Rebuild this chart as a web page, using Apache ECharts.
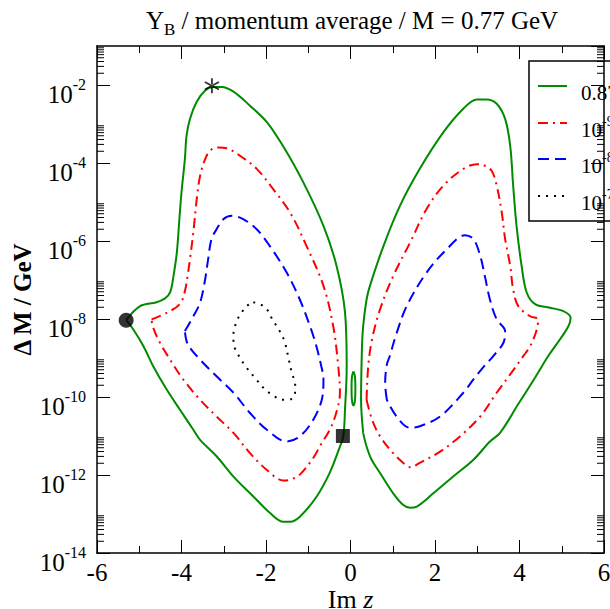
<!DOCTYPE html>
<html><head><meta charset="utf-8">
<script src="https://cdn.jsdelivr.net/npm/echarts@6/dist/echarts.min.js"></script>
<style>html,body{margin:0;padding:0;background:#fff;overflow:hidden}#c{width:610px;height:609px}</style>
</head><body><div id="c"></div>
<script>
// ---- data: [Im z, log10(ΔM / GeV)] ----
const greenLeft = [[-5.31,-8.03],[-4.98,-7.67],[-4.59,-7.57],[-4.39,-7.47],[-4.27,-7.32],[-4.19,-6.90],[-4.11,-6.29],[-4.05,-5.44],[-4.00,-4.75],[-3.92,-3.90],[-3.88,-3.30],[-3.80,-2.87],[-3.64,-2.43],[-3.44,-2.14],[-3.25,-2.05],[-3.05,-2.05],[-2.77,-2.17],[-2.38,-2.53],[-1.98,-2.95],[-1.60,-3.56],[-1.12,-4.49],[-0.64,-5.61],[-0.33,-6.64],[-0.13,-7.83],[-0.09,-9.22],[-0.13,-10.32],[-0.17,-11.01],[-0.25,-11.27],[-0.49,-11.94],[-0.80,-12.55],[-1.20,-13.07],[-1.43,-13.20],[-1.59,-13.20],[-1.91,-12.97],[-2.30,-12.55],[-2.77,-12.04],[-3.17,-11.52],[-3.56,-11.10],[-3.72,-10.84],[-4.04,-10.32],[-4.35,-9.81],[-4.67,-9.21],[-4.90,-8.70],[-5.14,-8.27],[-5.31,-8.03]];
const greenRight = [[0.30,-10.92],[0.25,-10.07],[0.27,-8.78],[0.30,-8.18],[0.38,-7.50],[0.46,-7.15],[0.78,-6.13],[1.17,-5.10],[1.64,-4.15],[2.20,-3.21],[2.67,-2.61],[2.99,-2.37],[3.22,-2.37],[3.46,-2.48],[3.66,-2.87],[3.78,-3.56],[3.85,-4.58],[3.93,-5.61],[4.05,-6.64],[4.17,-7.32],[4.37,-7.62],[4.72,-7.71],[5.04,-7.80],[5.21,-7.97],[5.16,-8.18],[4.96,-8.52],[4.68,-8.95],[4.37,-9.50],[3.96,-10.20],[3.54,-10.92],[3.30,-11.14],[2.91,-11.61],[2.43,-12.04],[1.96,-12.47],[1.57,-12.81],[1.41,-12.84],[1.25,-12.77],[1.01,-12.47],[0.70,-11.95],[0.50,-11.61],[0.38,-11.27],[0.30,-10.92]];
const greenIsland = [[0.07,-9.34],[0.105,-9.47],[0.115,-9.78],[0.105,-10.09],[0.07,-10.22],[0.035,-10.09],[0.025,-9.78],[0.035,-9.47],[0.07,-9.34]];
const redLeft = [[-4.71,-8.01],[-4.35,-7.84],[-4.04,-7.62],[-3.92,-7.29],[-3.85,-6.85],[-3.80,-6.47],[-3.72,-5.78],[-3.64,-4.93],[-3.56,-4.33],[-3.44,-3.90],[-3.32,-3.68],[-3.13,-3.60],[-2.93,-3.62],[-2.62,-3.81],[-2.22,-4.15],[-1.83,-4.67],[-1.43,-5.27],[-1.04,-6.13],[-0.64,-7.15],[-0.41,-8.18],[-0.29,-9.21],[-0.25,-9.89],[-0.33,-10.38],[-0.49,-10.84],[-0.72,-11.25],[-0.88,-11.56],[-1.20,-11.99],[-1.43,-12.12],[-1.59,-12.14],[-1.98,-11.87],[-2.38,-11.44],[-2.77,-10.92],[-3.17,-10.50],[-3.56,-10.07],[-3.96,-9.55],[-4.27,-9.04],[-4.51,-8.61],[-4.67,-8.22],[-4.71,-8.01]];
const redRight = [[0.38,-10.07],[0.42,-9.21],[0.51,-8.52],[0.70,-7.75],[1.01,-6.90],[1.41,-6.04],[1.80,-5.18],[2.20,-4.58],[2.67,-4.15],[2.99,-4.03],[3.14,-4.05],[3.34,-4.20],[3.46,-4.58],[3.58,-5.27],[3.66,-5.95],[3.78,-6.64],[3.85,-7.24],[3.97,-7.67],[4.25,-7.93],[4.44,-8.01],[4.41,-8.27],[4.25,-8.70],[4.09,-8.95],[3.78,-9.42],[3.46,-9.89],[3.07,-10.50],[2.59,-11.01],[2.12,-11.40],[1.64,-11.69],[1.41,-11.80],[1.25,-11.69],[1.01,-11.44],[0.70,-11.01],[0.51,-10.58],[0.38,-10.07]];
const blueLeft = [[-3.92,-8.31],[-3.72,-7.93],[-3.56,-7.58],[-3.44,-6.98],[-3.37,-6.47],[-3.29,-5.95],[-3.17,-5.70],[-3.01,-5.44],[-2.81,-5.35],[-2.54,-5.44],[-2.22,-5.70],[-1.91,-6.13],[-1.51,-6.81],[-1.20,-7.50],[-0.96,-8.18],[-0.82,-8.65],[-0.70,-9.17],[-0.64,-9.55],[-0.68,-10.07],[-0.88,-10.58],[-1.20,-11.01],[-1.51,-11.14],[-1.98,-10.84],[-2.38,-10.41],[-2.77,-9.89],[-3.17,-9.47],[-3.56,-9.04],[-3.85,-8.65],[-3.92,-8.31]];
const blueRight = [[0.86,-10.07],[0.82,-9.64],[0.86,-9.17],[0.93,-8.95],[1.08,-8.40],[1.33,-7.67],[1.80,-6.81],[2.28,-6.21],[2.71,-5.85],[2.91,-5.95],[3.07,-6.38],[3.18,-6.90],[3.30,-7.50],[3.46,-8.01],[3.66,-8.31],[3.62,-8.61],[3.38,-8.95],[3.14,-9.24],[2.91,-9.55],[2.67,-9.89],[2.12,-10.50],[1.64,-10.75],[1.41,-10.79],[1.09,-10.50],[0.86,-10.07]];
const blackLeft = [[-2.30,-7.57],[-2.14,-7.62],[-1.98,-7.75],[-1.87,-7.97],[-1.75,-8.18],[-1.63,-8.40],[-1.55,-8.61],[-1.47,-8.99],[-1.39,-9.38],[-1.31,-9.68],[-1.31,-9.85],[-1.39,-10.05],[-1.63,-10.07],[-1.83,-9.96],[-2.02,-9.81],[-2.26,-9.51],[-2.50,-9.19],[-2.66,-8.91],[-2.77,-8.61],[-2.77,-8.40],[-2.69,-8.05],[-2.58,-7.84],[-2.46,-7.67],[-2.30,-7.57]];
const circlePoint = [[-5.31,-8.03]];
const starPoint = [[-3.28,-2.02]];
const squarePoint = [[-0.18,-11.0]];

// ---- axes / text ----
const xTickValues = [-6,-4,-2,0,2,4,6];
const yMajorExponents = [-14,-12,-10,-8,-6,-4,-2];
const yMinorMantissas = [2,3,4,5,6,7,8,9];
const legendLabels = [['0.87',''],['10','-9'],['10','-8'],['10','-7']];
const titleParts = ['Y','B',' / momentum average / M = 0.77 GeV'];

const FONT = 'Liberation Serif';
// y axis is log10(ΔM): every decade is one unit of the value axis
const yMinorValues = [];
yMajorExponents.forEach(e => yMinorMantissas.forEach(m => yMinorValues.push([-6, e + Math.log10(m)])));

const chart = echarts.init(document.getElementById('c'), null, {renderer: 'svg'});

function contour(name, data, color, type) {
  return {
    type: 'line', name, data: data, showSymbol: false, symbol: 'none',
    smooth: 0.35, animation: false, silent: true, clip: true, z: 3,
    lineStyle: {color, width: 2, type, cap: 'butt'}
  };
}
const GREEN = '#008b00', RED = '#ff0000', BLUE = '#0000ff';
const redDash = [10, 5, 2, 5], blueDash = [11, 6], dotDash = [2, 6];
const starPath = 'path://M8.9,0L11.1,0L11.1,20L8.9,20Z M0.8,5.95L18.1,15.95L19.2,14.05L1.9,4.05Z M1.9,15.95L19.2,5.95L18.1,4.05L0.8,14.05Z';

const axisLineStyle = {color: '#000', width: 1.5};
const xAxisBase = {
  type: 'value', min: -6, max: 6, interval: 2,
  axisLine: {show: true, onZero: false, lineStyle: axisLineStyle},
  axisTick: {show: true, inside: true, length: 13, lineStyle: {color: '#000', width: 1}},
  minorTick: {show: true, splitNumber: 2, length: 7, lineStyle: {color: '#000', width: 1}},
  splitLine: {show: false}, minorSplitLine: {show: false}
};
const yAxisBase = {
  type: 'value', min: -14, max: -1, interval: 2,
  axisLine: {show: true, onZero: false, lineStyle: axisLineStyle},
  axisTick: {show: true, inside: true, length: 13, lineStyle: {color: '#000', width: 1}},
  minorTick: {show: false}, splitLine: {show: false}, minorSplitLine: {show: false}
};

const legendY = [86, 123, 159, 196];
const legendStyles = [
  {stroke: GREEN, lineDash: null},
  {stroke: RED, lineDash: redDash},
  {stroke: BLUE, lineDash: blueDash},
  {stroke: '#000', lineDash: dotDash}
];
const legendChildren = [{type: 'rect', shape: {x: 529, y: 61, width: 100, height: 160}, style: {fill: '#fff', stroke: '#000', lineWidth: 1.5}}];
legendY.forEach((y, i) => {
  legendChildren.push({type: 'line', shape: {x1: 538, y1: y, x2: 567, y2: y},
    style: {stroke: legendStyles[i].stroke, lineWidth: 2, lineDash: legendStyles[i].lineDash, lineCap: 'butt'}});
  legendChildren.push({type: 'text', x: 581, y: y + 4, style: {
    text: '{b|' + legendLabels[i][0] + '}' + (legendLabels[i][1] ? '{s|' + legendLabels[i][1] + '}' : ''),
    verticalAlign: 'middle', align: 'left',
    rich: {b: {fontFamily: FONT, fontSize: 21, lineHeight: 26, verticalAlign: 'bottom', fill: '#000'},
           s: {fontFamily: FONT, fontSize: 14, lineHeight: 14, verticalAlign: 'top', fill: '#000'}}
  }});
});

chart.setOption({
  animation: false,
  backgroundColor: '#fff',
  textStyle: {fontFamily: FONT},
  title: {
    text: '{a|' + titleParts[0] + '}{b|' + titleParts[1] + '}{a|' + titleParts[2] + '}',
    left: 347, top: 3, textAlign: 'center',
    textStyle: {fontWeight: 'normal', rich: {
      a: {fontFamily: FONT, fontSize: 25, fontWeight: 'normal', lineHeight: 30, verticalAlign: 'top', color: '#000'},
      b: {fontFamily: FONT, fontSize: 17, fontWeight: 'normal', lineHeight: 17, verticalAlign: 'bottom', color: '#000'}
    }}
  },
  grid: {left: 97, right: 6, top: 46, bottom: 56, containLabel: false, outerBoundsMode: 'none'},
  xAxis: [
    Object.assign({}, xAxisBase, {position: 'bottom',
      name: '{a|Im }{i|z}', nameLocation: 'middle', nameGap: 36, nameMoveOverlap: false,
      nameTextStyle: {lineHeight: 20, rich: {a: {fontFamily: FONT, fontSize: 26, lineHeight: 20, color: '#000'}, i: {fontFamily: FONT, fontSize: 26, lineHeight: 20, fontStyle: 'italic', color: '#000'}}},
      axisLabel: {show: true, margin: 9, fontFamily: FONT, fontSize: 25, lineHeight: 20, color: '#000', alignMinLabel: 'center', alignMaxLabel: 'center'}}),
    Object.assign({}, xAxisBase, {position: 'top', axisLabel: {show: false}})
  ],
  yAxis: [
    Object.assign({}, yAxisBase, {position: 'left',
      name: 'Δ M / GeV', nameLocation: 'middle', nameGap: 62, nameMoveOverlap: false,
      nameTextStyle: {fontFamily: FONT, fontSize: 25, fontWeight: 'bold', color: '#000'},
      axisLabel: {show: true, margin: 11, showMaxLabel: false, padding: [13, 0, 0, 0],
        formatter: v => '{b|10}{s|' + Math.round(v) + '}',
        rich: {b: {fontFamily: FONT, fontSize: 25, lineHeight: 30, padding: [7, 0, 0, 0], verticalAlign: 'bottom', color: '#000'},
               s: {fontFamily: FONT, fontSize: 16, lineHeight: 16, verticalAlign: 'top', color: '#000'}}}}),
    Object.assign({}, yAxisBase, {position: 'right', axisLabel: {show: false}})
  ],
  graphic: [{type: 'group', z: 100, children: legendChildren}],
  series: [
    contour('0.87', greenLeft, GREEN, 'solid'),
    contour('0.87', greenRight, GREEN, 'solid'),
    contour('0.87', greenIsland, GREEN, 'solid'),
    contour('1e-9', redLeft, RED, redDash),
    contour('1e-9', redRight, RED, redDash),
    contour('1e-8', blueLeft, BLUE, blueDash),
    contour('1e-8', blueRight, BLUE, blueDash),
    contour('1e-7', blackLeft, '#000', dotDash),
    {type: 'scatter', data: circlePoint, symbol: 'circle', symbolSize: 15, itemStyle: {color: '#000'}, z: 5, silent: true},
    {type: 'scatter', data: starPoint, symbol: starPath, symbolSize: 15, itemStyle: {color: '#000'}, z: 5, silent: true},
    {type: 'scatter', data: squarePoint, symbol: 'rect', symbolSize: 14, itemStyle: {color: '#000'}, z: 5, silent: true},
    {type: 'custom', data: yMinorValues, silent: true, clip: false, z: 4,
      renderItem: (params, api) => {
        const v = api.value(1);
        const pL = api.coord([-6, v]);
        const pR = api.coord([6, v]);
        return {type: 'group', children: [
          {type: 'line', shape: {x1: pL[0], y1: pL[1], x2: pL[0] + 7, y2: pL[1]}, style: {stroke: '#000', lineWidth: 1}},
          {type: 'line', shape: {x1: pR[0], y1: pR[1], x2: pR[0] - 7, y2: pR[1]}, style: {stroke: '#000', lineWidth: 1}}
        ]};
      }}
  ]
});
</script></body></html>
